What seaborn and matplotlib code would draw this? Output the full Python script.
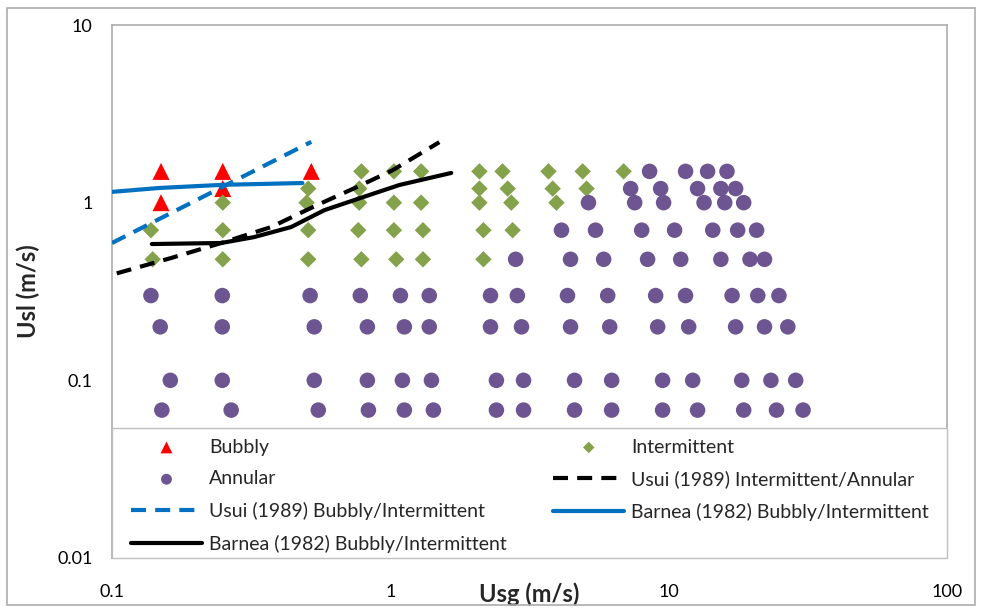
import matplotlib
matplotlib.use("Agg")
import matplotlib.pyplot as plt
from matplotlib.patches import Rectangle
import pandas as pd
import seaborn as sns

# Flow-regime observations (superficial gas / liquid velocity, m/s)
bubbly_usg = [0.15, 0.15, 0.25, 0.25, 0.52]
bubbly_usl = [1.5, 1.0, 1.5, 1.2, 1.5]

intermittent_usg = [0.138, 0.14,
                    0.25, 0.25, 0.25,
                    0.507, 0.50, 0.507, 0.507,
                    0.787, 0.773, 0.773, 0.767, 0.787,
                    1.03, 1.03, 1.03, 1.05,
                    1.29, 1.29, 1.31, 1.31,
                    2.09, 2.09, 2.09, 2.16, 2.16,
                    2.53, 2.64, 2.72, 2.75,
                    3.70, 3.83, 3.95,
                    4.91, 5.07,
                    6.89]
intermittent_usl = [0.7, 0.48,
                    1.0, 0.7, 0.48,
                    1.2, 1.0, 0.7, 0.48,
                    1.5, 1.2, 1.0, 0.7, 0.48,
                    1.5, 1.0, 0.7, 0.48,
                    1.5, 1.0, 0.7, 0.48,
                    1.5, 1.2, 1.0, 0.7, 0.48,
                    1.5, 1.2, 1.0, 0.7,
                    1.5, 1.2, 1.0,
                    1.5, 1.2,
                    1.5]

annular_usg = [8.54, 11.5, 13.8, 16.2,
               7.30, 9.36, 12.7, 15.4, 17.4,
               5.15, 7.55, 9.59, 13.4, 15.9, 18.6,
               4.12, 5.46, 8.0, 10.5, 14.4, 17.7, 20.7,
               2.82, 4.44, 5.84, 8.40, 11.05, 15.4, 19.6, 22.1,
               0.138, 0.249, 0.515, 0.78, 1.087, 1.38, 2.29, 2.86, 4.33, 6.04,
               8.98, 11.5, 16.9, 20.9, 24.9,
               0.149, 0.249, 0.533, 0.827, 1.123, 1.38, 2.29, 2.96, 4.44, 6.14,
               9.13, 11.8, 17.4, 22.1, 26.8,
               0.162, 0.249, 0.533, 0.827, 1.105, 1.405, 2.405, 3.01, 4.59, 6.24,
               9.51, 12.2, 18.3, 23.3, 28.6,
               0.151, 0.268, 0.551, 0.834, 1.123, 1.428, 2.405, 3.01, 4.59, 6.24,
               9.51, 12.7, 18.6, 24.4, 30.4]
annular_usl = ([1.5] * 4 + [1.2] * 5 + [1.0] * 6 + [0.7] * 7 + [0.48] * 8
               + [0.3] * 15 + [0.2] * 15 + [0.1] * 15 + [0.068] * 15)

# Transition boundaries
usui_ia_usg = [0.104, 0.163, 0.247, 0.373, 0.546, 0.755, 1.017, 1.5]
usui_ia_usl = [0.40, 0.488, 0.593, 0.729, 0.97, 1.22, 1.52, 2.19]

usui_bi_usg = [0.1, 0.52]
usui_bi_usl = [0.593, 2.2]

barnea_blue_usg = [0.1, 0.148, 0.25, 0.483]
barnea_blue_usl = [1.15, 1.21, 1.26, 1.29]

barnea_black_usg = [0.139, 0.247, 0.324, 0.44, 0.58, 0.82, 1.077, 1.655]
barnea_black_usl = [0.585, 0.593, 0.64, 0.729, 0.908, 1.09, 1.257, 1.47]

x_ticks = [0.1, 1, 10, 100]
x_tick_labels = ["0.1", "1", "10", "100"]
y_ticks = [0.01, 0.1, 1, 10]
y_tick_labels = ["0.01", "0.1", "1", "10"]

sns.set_theme(style="white")
plt.rcParams["font.family"] = ["Lato", "DejaVu Sans"]

fig = plt.figure(figsize=(9.81, 6.10), dpi=100)
ax = fig.add_axes([112 / 981, 1 - 558 / 610, (947 - 112) / 981, (558 - 25) / 610])

RED = "#FF0000"
GREEN = "#84A24B"
PURPLE = "#6C5591"
BLUE = "#0070C0"
BLACK = "#000000"

sns.scatterplot(x=bubbly_usg, y=bubbly_usl, marker="^", s=150, color=RED,
                edgecolor="none", label="Bubbly", ax=ax, zorder=3)
sns.scatterplot(x=intermittent_usg, y=intermittent_usl, marker="D", s=70,
                color=GREEN, edgecolor="none", label="Intermittent", ax=ax, zorder=3)
sns.scatterplot(x=annular_usg, y=annular_usl, marker="o", s=125, color=PURPLE,
                edgecolor="none", label="Annular", ax=ax, zorder=3)

lw = 3.0
dash = (3.6, 2.2)
sns.lineplot(x=usui_ia_usg, y=usui_ia_usl, sort=False, estimator=None, color=BLACK,
             lw=lw, label="Usui (1989) Intermittent/Annular", ax=ax, zorder=4)
ax.lines[-1].set_dashes(dash)
sns.lineplot(x=usui_bi_usg, y=usui_bi_usl, sort=False, estimator=None, color=BLUE,
             lw=lw, label="Usui (1989) Bubbly/Intermittent", ax=ax, zorder=4)
ax.lines[-1].set_dashes(dash)
sns.lineplot(x=barnea_blue_usg, y=barnea_blue_usl, sort=False, estimator=None, color=BLUE,
             lw=lw, label="Barnea (1982) Bubbly/Intermittent", ax=ax, zorder=4)
sns.lineplot(x=barnea_black_usg, y=barnea_black_usl, sort=False, estimator=None, color=BLACK,
             lw=lw, label="Barnea (1982) Bubbly/Intermittent ", ax=ax, zorder=4)

ax.set_xscale("log")
ax.set_yscale("log")
ax.set_xlim(0.1, 100)
ax.set_ylim(0.01, 10)
ax.set_xticks(x_ticks)
ax.set_xticklabels(x_tick_labels)
ax.set_yticks(y_ticks)
ax.set_yticklabels(y_tick_labels)
ax.minorticks_off()
ax.tick_params(axis="both", length=0, labelsize=13, colors="#000000")
ax.tick_params(axis="x", pad=19)
ax.tick_params(axis="y", pad=14)
for sp in ax.spines.values():
    sp.set_color("#ADADAD")
    sp.set_linewidth(1.2)
ax.grid(False)

ax.set_xlabel("Usg (m/s)", fontsize=17, fontweight="bold", va="center")
ax.xaxis.set_label_coords(0.5, -(594 - 558) / 533)
ax.set_ylabel("Usl (m/s)", fontsize=17, fontweight="bold", labelpad=12)

# legend panel spanning the bottom of the plot area
W, H = 835, 533
ax.add_patch(Rectangle((0, 0), 1, (558 - 428) / H, transform=ax.transAxes,
                       facecolor="white", edgecolor="#BFBFBF", linewidth=1.0,
                       zorder=9, clip_on=False))

handles, labels = ax.get_legend_handles_labels()
lookup = dict(zip(labels, handles))
order = ["Bubbly", "Annular", "Usui (1989) Bubbly/Intermittent",
         "Barnea (1982) Bubbly/Intermittent ",
         "Intermittent", "Usui (1989) Intermittent/Annular",
         "Barnea (1982) Bubbly/Intermittent"]
leg = ax.legend([lookup[k] for k in order], [k.strip() for k in order],
                ncol=2, loc="lower left",
                bbox_to_anchor=((132 - 113) / W, (558 - 553) / H, (930 - 132) / W, 0.2),
                mode="expand", fontsize=14, frameon=False, handlelength=3.65,
                handletextpad=0.36, labelspacing=0.76, borderpad=0.0,
                markerscale=0.7, borderaxespad=0.0)
leg.set_zorder(10)

# chart area border
fig.patches.append(Rectangle((7 / 981, 1 - 605 / 610), (975 - 7) / 981, (605 - 8) / 610,
                             transform=fig.transFigure, fill=False,
                             edgecolor="#ADADAD", linewidth=1.2))

fig.savefig("out.png", dpi=100, facecolor="white")
